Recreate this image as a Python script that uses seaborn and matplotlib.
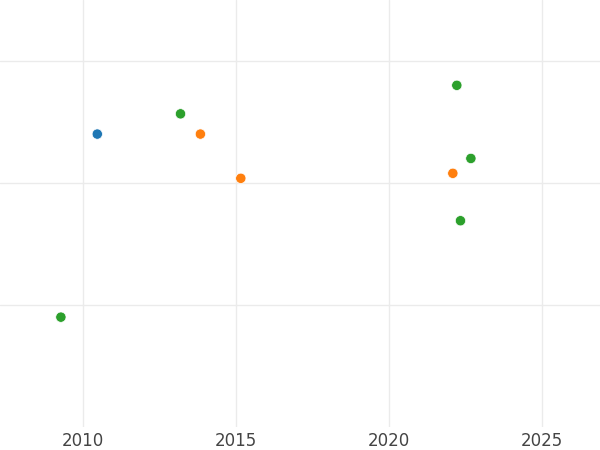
import matplotlib
matplotlib.use("Agg")
import matplotlib.pyplot as plt
import seaborn as sns
import pandas as pd

years = [2010.47, 2013.19, 2013.84, 2015.16, 2022.22, 2022.68, 2022.09, 2022.34, 2009.28]
values = [24.0, 25.66, 24.0, 20.37, 28.0, 22.0, 20.78, 16.89, 8.98]
groups = ["A", "C", "B", "B", "C", "C", "B", "C", "C"]
group_order = ["A", "B", "C"]
palette = ["#1f77b4", "#ff7f0e", "#2ca02c"]
x_ticks = [2010, 2015, 2020, 2025]
y_ticks = [10, 20, 30]

df = pd.DataFrame({"year": years, "value": values, "group": groups})

sns.set_style("whitegrid")
fig = plt.figure(figsize=(6, 4.5), dpi=100)
ax = fig.add_axes([0, 0.052, 1, 0.948])
sns.scatterplot(data=df, x="year", y="value", hue="group", hue_order=group_order,
                palette=palette, s=55, edgecolor="white", linewidth=0.5,
                legend=False, ax=ax, zorder=3)
ax.set_xlim(2007.29, 2026.9)
ax.set_ylim(0, 35)
ax.set_xticks(x_ticks)
ax.set_yticks(y_ticks)
ax.set_yticklabels([])
ax.set_xlabel("")
ax.set_ylabel("")
ax.tick_params(axis="x", length=0, labelsize=12, colors="#444444", pad=4)
ax.tick_params(axis="y", length=0)
ax.grid(True, color="#ebebeb", linewidth=1.0)
for s in ax.spines.values():
    s.set_visible(False)
fig.savefig("out.png", dpi=100)
